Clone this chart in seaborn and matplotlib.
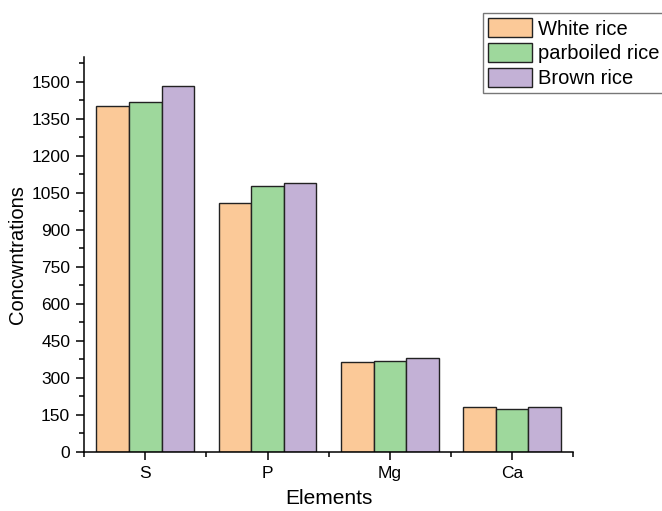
import numpy as np
import pandas as pd
import matplotlib
matplotlib.use('Agg')
import matplotlib.pyplot as plt
from matplotlib.ticker import MultipleLocator, FixedLocator
import seaborn as sns

# データ
elements = ['S', 'P', 'Mg', 'Ca']
white_rice = [1400, 1009, 366, 181]
parboiled_rice = [1416, 1078, 370, 174]
brown_rice = [1484, 1090, 381, 181]
series_names = ['White rice', 'parboiled rice', 'Brown rice']
colors = ['#FBC998', '#9ED89C', '#C3B1D6']

df = pd.DataFrame({
    'Elements': elements * 3,
    'value': white_rice + parboiled_rice + brown_rice,
    'rice': [n for n in series_names for _ in elements],
})

sns.set_theme(style='ticks')
plt.rcParams['font.family'] = ['Liberation Sans', 'DejaVu Sans']
plt.rcParams['text.color'] = 'black'
plt.rcParams['axes.labelcolor'] = 'black'
plt.rcParams['xtick.color'] = 'black'
plt.rcParams['ytick.color'] = 'black'

fig = plt.figure(figsize=(6.62, 5.11), dpi=100)
ax = fig.add_axes([0.127, 0.1155, 0.739, 0.773])

sns.barplot(data=df, x='Elements', y='value', hue='rice', order=elements,
            hue_order=series_names, palette=colors, width=0.8,
            edgecolor='#222222', linewidth=1.0, saturation=1, ax=ax)

ax.set_xlim(-0.5, 3.5)
ax.set_ylim(0, 1600)
ax.yaxis.set_major_locator(MultipleLocator(150))
ax.yaxis.set_minor_locator(MultipleLocator(75))
ax.xaxis.set_minor_locator(FixedLocator([-0.5, 0.5, 1.5, 2.5, 3.5]))

ax.set_xlabel('Elements', fontsize=15, labelpad=6)
ax.set_ylabel('Concwntrations', fontsize=14.5, labelpad=3)

for side in ['top', 'right']:
    ax.spines[side].set_visible(False)
for side in ['left', 'bottom']:
    ax.spines[side].set_linewidth(1.1)
    ax.spines[side].set_color('black')

ax.tick_params(axis='both', which='major', labelsize=12.5, length=6, width=1.1,
               color='black', labelcolor='black', direction='out', pad=4)
ax.tick_params(axis='both', which='minor', length=3.5, width=1.1, color='black',
               direction='out')

ax.get_legend().remove()
handles, labels = ax.get_legend_handles_labels()
leg = fig.legend(handles, labels, loc='upper left',
                 bbox_to_anchor=(483 / 662, 1 - 13 / 511),
                 fontsize=14.5, frameon=True, fancybox=False,
                 handlelength=2.2, handleheight=1.1, handletextpad=0.3,
                 labelspacing=0.22, borderpad=0.25, borderaxespad=0,
                 labelcolor='black')
leg.get_frame().set_edgecolor('#555555')
leg.get_frame().set_linewidth(1.0)

fig.savefig('out.png', dpi=100)
